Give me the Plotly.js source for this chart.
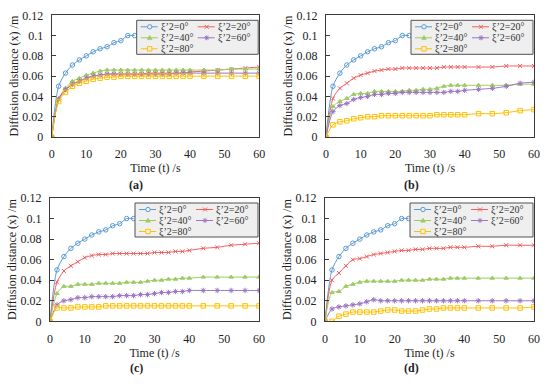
<!DOCTYPE html>
<html>
<head>
<meta charset="utf-8">
<script src="https://cdn.plot.ly/plotly-3.0.1.min.js"></script>
<style>html,body{margin:0;padding:0;background:#fff}#chart{width:550px;height:387px}</style>
</head>
<body>
<div id="chart"></div>
<script>
// ---------- data ----------
const seriesNames = ['ξ’2=0°', 'ξ’2=20°', 'ξ’2=40°', 'ξ’2=60°', 'ξ’2=80°'];
const panelLabels = ['(a)', '(b)', '(c)', '(d)'];
const xTitle = 'Time (t) /s';
const yTitle = 'Diffusion distance (x) /m';
const xTickVals = [0, 10, 20, 30, 40, 50, 60];
const yTickVals = [0, 0.02, 0.04, 0.06, 0.08, 0.1, 0.12];
const yTickText = ['0', '0.02', '0.04', '0.06', '0.08', '0.1', '0.12'];

// time samples (s)
const t = [0,2,4,6,8,10,12,14,16,18,20,22,24,26,28,30,32,34,36,38,40,44,48,52,56,60];
const tBlue = [0,2,4,6,8,10,12,14,16,18,20,22,24];
// ξ'2 = 0° (same in all panels)
const blue0 = [0,0.050,0.063,0.071,0.076,0.080,0.084,0.087,0.089,0.093,0.095,0.100,0.100];

// panel (a)
const a20 = [0,0.037,0.046,0.052,0.055,0.058,0.060,0.061,0.062,0.062,0.062,0.062,0.062,0.062,0.063,0.063,0.063,0.063,0.063,0.063,0.064,0.065,0.066,0.067,0.068,0.069];
const a40 = [0,0.038,0.048,0.055,0.058,0.061,0.063,0.065,0.066,0.066,0.066,0.066,0.066,0.066,0.066,0.066,0.066,0.066,0.066,0.066,0.066,0.066,0.066,0.067,0.067,0.067];
const a60 = [0,0.037,0.047,0.052,0.055,0.058,0.060,0.061,0.062,0.062,0.062,0.062,0.062,0.062,0.062,0.062,0.062,0.062,0.063,0.063,0.063,0.063,0.063,0.063,0.063,0.063];
const a80 = [0,0.035,0.044,0.050,0.053,0.055,0.057,0.058,0.059,0.059,0.060,0.060,0.060,0.060,0.060,0.060,0.060,0.060,0.060,0.060,0.060,0.060,0.060,0.060,0.060,0.060];
// panel (b)
const b20 = [0,0.038,0.048,0.053,0.058,0.061,0.063,0.065,0.066,0.067,0.067,0.068,0.068,0.068,0.068,0.068,0.068,0.069,0.069,0.069,0.069,0.069,0.069,0.070,0.070,0.070];
const b40 = [0,0.030,0.035,0.038,0.042,0.043,0.043,0.045,0.045,0.045,0.045,0.045,0.046,0.046,0.047,0.047,0.048,0.050,0.051,0.051,0.051,0.051,0.051,0.051,0.052,0.052];
const b60 = [0,0.025,0.031,0.033,0.037,0.039,0.040,0.042,0.042,0.043,0.043,0.044,0.044,0.044,0.044,0.044,0.044,0.044,0.045,0.045,0.046,0.047,0.048,0.050,0.053,0.054];
const b80 = [0,0.012,0.015,0.016,0.018,0.019,0.020,0.020,0.021,0.021,0.021,0.021,0.021,0.021,0.021,0.021,0.022,0.022,0.022,0.022,0.022,0.023,0.023,0.024,0.026,0.027];
// panel (c)
const c20 = [0,0.038,0.049,0.054,0.058,0.062,0.064,0.065,0.065,0.066,0.066,0.066,0.066,0.066,0.066,0.067,0.067,0.067,0.068,0.068,0.069,0.071,0.072,0.074,0.075,0.076];
const c40 = [0,0.027,0.034,0.034,0.036,0.036,0.036,0.037,0.037,0.037,0.037,0.038,0.038,0.038,0.039,0.040,0.040,0.041,0.041,0.042,0.042,0.043,0.043,0.043,0.043,0.043];
const c60 = [0,0.016,0.020,0.021,0.023,0.023,0.024,0.024,0.024,0.024,0.025,0.025,0.025,0.026,0.026,0.027,0.028,0.028,0.029,0.029,0.030,0.030,0.030,0.030,0.030,0.030];
const c80 = [0,0.013,0.013,0.013,0.014,0.014,0.014,0.014,0.015,0.015,0.015,0.015,0.015,0.015,0.015,0.015,0.015,0.015,0.015,0.015,0.015,0.015,0.015,0.015,0.015,0.015];
// panel (d)
const d20 = [0,0.040,0.047,0.054,0.060,0.061,0.063,0.065,0.066,0.067,0.068,0.069,0.069,0.070,0.070,0.071,0.071,0.071,0.072,0.072,0.072,0.073,0.073,0.074,0.074,0.074];
const d40 = [0,0.028,0.029,0.034,0.036,0.038,0.039,0.039,0.039,0.039,0.039,0.040,0.040,0.040,0.040,0.041,0.041,0.041,0.042,0.042,0.042,0.042,0.042,0.042,0.042,0.042];
const d60 = [0,0.012,0.014,0.015,0.016,0.017,0.019,0.021,0.020,0.020,0.020,0.020,0.020,0.020,0.020,0.020,0.020,0.020,0.020,0.020,0.020,0.020,0.020,0.020,0.020,0.020];
const d80 = [0,0.000,0.005,0.007,0.009,0.009,0.009,0.009,0.010,0.011,0.011,0.010,0.010,0.010,0.011,0.012,0.012,0.013,0.013,0.013,0.013,0.013,0.013,0.013,0.013,0.014];

// ---------- styling / layout ----------
const W = 550, H = 387;
const FONT = '"Liberation Serif", "Times New Roman", serif';
const AXC = '#3a3a3a';
const colors = ['#5B9BD5', '#F0605F', '#9CCB62', '#9B76C2', '#FFC000'];
const symbols = ['circle-open', 'x-thin-open', 'triangle-up', 'asterisk-open', 'square-open'];
const msizes = [4.5, 4, 4, 4.5, 4.5];

const panelData = [[a20, a40, a60, a80], [b20, b40, b60, b80], [c20, c40, c60, c80], [d20, d40, d60, d80]];
// plot-area pixel boxes
const boxes = [
  {x0: 51.7, x1: 259.2, y0: 15.3, y1: 137.0, lx: 136, ly: 185},
  {x0: 326.0, x1: 534.0, y0: 15.3, y1: 137.0, lx: 411, ly: 185},
  {x0: 50.0, x1: 259.0, y0: 198.0, y1: 321.3, lx: 136, ly: 368},
  {x0: 325.0, x1: 534.0, y0: 198.0, y1: 321.3, lx: 411, ly: 368}
];
const px = v => v / W;
const py = v => 1 - v / H;

const traces = [];
const layout = {
  width: W, height: H,
  margin: {l: 0, r: 0, t: 0, b: 0},
  paper_bgcolor: '#fff', plot_bgcolor: '#fff',
  font: {family: FONT, size: 12, color: '#222'},
  showlegend: false,
  shapes: [], annotations: []
};

panelData.forEach((series, p) => {
  const sfx = p === 0 ? '' : String(p + 1);
  const xa = 'x' + sfx, ya = 'y' + sfx;
  const b = boxes[p];
  const lineTr = (x, y, i) => ({
    x: x, y: y, xaxis: xa, yaxis: ya, type: 'scatter', mode: 'lines+markers',
    name: seriesNames[i], showlegend: false,
    line: {color: colors[i], width: 1, shape: 'spline', smoothing: 0.8},
    marker: {symbol: symbols[i], size: msizes[i], color: colors[i], line: {color: colors[i], width: 1}}
  });
  traces.push(lineTr(tBlue, blue0, 0));
  series.forEach((arr, k) => traces.push(lineTr(t, arr, k + 1)));

  // main x axis: labels pushed down by transparent outside ticks
  layout['xaxis' + sfx] = {
    domain: [px(b.x0), px(b.x1)], anchor: ya, range: [0, 60],
    tickvals: xTickVals, ticks: 'outside', ticklen: 6, tickcolor: 'rgba(0,0,0,0)',
    showline: true, mirror: true, linecolor: AXC, linewidth: 1,
    showgrid: false, zeroline: false,
    tickfont: {family: FONT, size: 12, color: '#222'},
    title: {text: xTitle, font: {family: FONT, size: 12, color: '#222'}, standoff: 0}
  };
  // overlay x axis that only draws the inside tick marks
  layout['xaxis' + (p + 5)] = {
    overlaying: xa, anchor: ya, side: 'bottom', range: [0, 60],
    tickvals: xTickVals, ticks: 'inside', ticklen: 4, tickcolor: AXC,
    showticklabels: false, showline: false, showgrid: false, zeroline: false
  };
  layout['yaxis' + sfx] = {
    domain: [py(b.y1), py(b.y0)], anchor: xa, range: [0, 0.12],
    tickvals: yTickVals, ticktext: yTickText, ticks: 'inside', ticklen: 4, tickcolor: AXC,
    showline: true, mirror: true, linecolor: AXC, linewidth: 1,
    showgrid: false, zeroline: false, ticklabelstandoff: 5,
    tickfont: {family: FONT, size: 12, color: '#222'},
    title: {text: yTitle, font: {family: FONT, size: 12, color: '#222'}, standoff: 1}
  };

  layout.annotations.push({
    xref: 'paper', yref: 'paper', x: px(b.lx), y: py(b.ly), xanchor: 'center', yanchor: 'middle',
    text: '<b>' + panelLabels[p] + '</b>', showarrow: false, borderpad: 0,
    font: {family: FONT, size: 12, color: '#222'}
  });

  // legend box
  const L = b.x0 + 85, R = b.x1 - 1, T = b.y0 + 5, B = T + 34;
  layout.shapes.push({type: 'rect', xref: 'paper', yref: 'paper', layer: 'above',
    x0: px(L), x1: px(R), y0: py(B), y1: py(T),
    fillcolor: '#EFEFEF', line: {color: '#505050', width: 1}});
  const slots = [[0, 0], [1, 0], [0, 1], [1, 1], [0, 2]];
  slots.forEach((s, i) => {
    const kx0 = L + (s[0] ? 61 : 4), kx1 = kx0 + 17, cx = kx0 + 9, cy = T + 6.5 + s[1] * 11;
    const tx = L + (s[0] ? 80 : 23);
    layout.shapes.push({type: 'line', xref: 'paper', yref: 'paper', layer: 'above',
      x0: px(kx0), x1: px(kx1), y0: py(cy), y1: py(cy), line: {color: colors[i], width: 1}});
    const r = 2.2, c = colors[i];
    let m;
    if (i === 0) m = {type: 'circle', x0: px(cx - r), x1: px(cx + r), y0: py(cy + r), y1: py(cy - r), fillcolor: '#EFEFEF', line: {color: c, width: 1}};
    else if (i === 4) m = {type: 'rect', x0: px(cx - r), x1: px(cx + r), y0: py(cy + r), y1: py(cy - r), fillcolor: '#EFEFEF', line: {color: c, width: 1}};
    else if (i === 1) m = {type: 'path', path: `M${px(cx-2)},${py(cy-2)}L${px(cx+2)},${py(cy+2)}M${px(cx-2)},${py(cy+2)}L${px(cx+2)},${py(cy-2)}`, line: {color: c, width: 1}};
    else if (i === 2) m = {type: 'path', path: `M${px(cx)},${py(cy-2.5)}L${px(cx+2.4)},${py(cy+1.8)}L${px(cx-2.4)},${py(cy+1.8)}Z`, fillcolor: c, line: {color: c, width: 0.5}};
    else m = {type: 'path', path: `M${px(cx)},${py(cy-2.5)}L${px(cx)},${py(cy+2.5)}M${px(cx-2.5)},${py(cy)}L${px(cx+2.5)},${py(cy)}M${px(cx-1.8)},${py(cy-1.8)}L${px(cx+1.8)},${py(cy+1.8)}M${px(cx-1.8)},${py(cy+1.8)}L${px(cx+1.8)},${py(cy-1.8)}`, line: {color: c, width: 1}};
    Object.assign(m, {xref: 'paper', yref: 'paper', layer: 'above'});
    layout.shapes.push(m);
    layout.annotations.push({xref: 'paper', yref: 'paper', x: px(tx), y: py(cy), xanchor: 'left', yanchor: 'middle',
      text: seriesNames[i], showarrow: false, font: {family: FONT, size: 10, color: '#333'}, borderpad: 0});
  });
});

Plotly.newPlot('chart', traces, layout, {displayModeBar: false, staticPlot: true});
</script>
</body>
</html>
